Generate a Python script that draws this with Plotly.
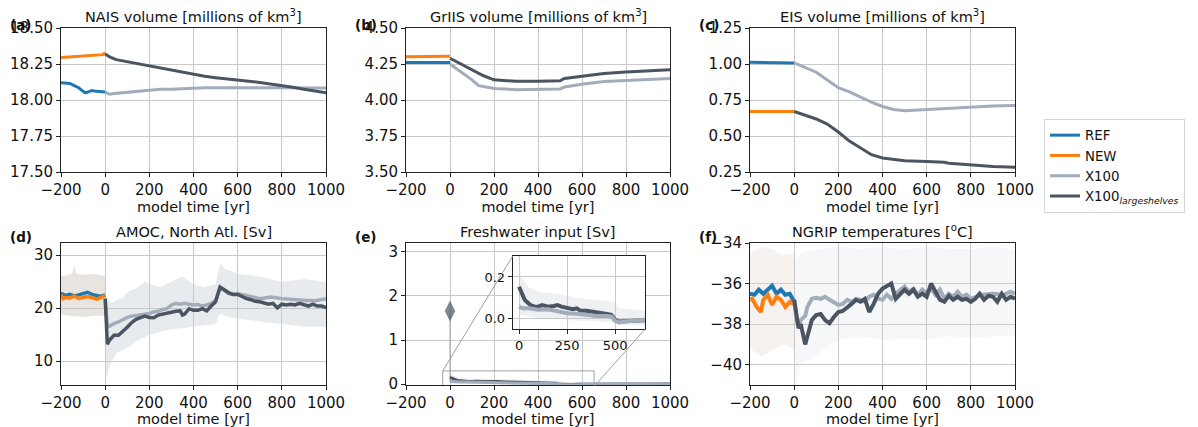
import plotly.graph_objects as go

W, H = 1198, 427

# ---------------- data ----------------
# (a) NAIS volume [millions of km3]
a_ref_t = [-200, -160, -140, -120, -100, -90, -80, -60, -40, -20, 0]
a_ref_v = [18.12, 18.115, 18.10, 18.085, 18.06, 18.05, 18.055, 18.065, 18.06, 18.06, 18.055]
a_new_t = [-200, -150, -100, -50, -10, 0]
a_new_v = [18.295, 18.30, 18.305, 18.31, 18.315, 18.33]
a_x100_t = [0, 20, 40, 80, 100, 150, 200, 250, 300, 350, 400, 450, 500, 600, 700, 800, 900, 1000]
a_x100_v = [18.055, 18.04, 18.045, 18.05, 18.055, 18.06, 18.065, 18.075, 18.075, 18.08, 18.08,
            18.085, 18.085, 18.087, 18.085, 18.085, 18.085, 18.083]
a_ls_t = [0, 20, 50, 100, 150, 200, 250, 300, 350, 400, 450, 500, 550, 600, 650, 700, 750, 800,
          850, 900, 950, 1000]
a_ls_v = [18.32, 18.30, 18.28, 18.265, 18.25, 18.24, 18.225, 18.21, 18.195, 18.18, 18.165, 18.155,
          18.145, 18.14, 18.13, 18.122, 18.112, 18.10, 18.088, 18.075, 18.062, 18.05]

# (b) GrIIS volume
b_ref_t = [-200, 0]
b_ref_v = [4.26, 4.26]
b_new_t = [-200, 0]
b_new_v = [4.30, 4.303]
b_x100_t = [0, 50, 100, 130, 200, 300, 400, 500, 520, 600, 700, 800, 900, 1000]
b_x100_v = [4.25, 4.195, 4.14, 4.10, 4.08, 4.072, 4.072, 4.077, 4.09, 4.11, 4.128, 4.137, 4.144, 4.15]
b_ls_t = [0, 50, 100, 150, 200, 250, 300, 400, 500, 520, 600, 700, 800, 900, 1000]
b_ls_v = [4.29, 4.25, 4.21, 4.17, 4.14, 4.135, 4.13, 4.13, 4.133, 4.15, 4.167, 4.184, 4.195, 4.20, 4.21]

# (c) EIS volume
c_ref_t = [-200, 0]
c_ref_v = [1.012, 1.007]
c_new_t = [-200, 0]
c_new_v = [0.67, 0.67]
c_x100_t = [0, 50, 100, 150, 200, 250, 300, 350, 400, 450, 500, 600, 700, 800, 900, 1000]
c_x100_v = [1.007, 0.976, 0.943, 0.889, 0.835, 0.807, 0.771, 0.736, 0.705, 0.684, 0.675, 0.684,
            0.693, 0.703, 0.708, 0.712]
c_ls_t = [0, 50, 100, 150, 200, 250, 300, 350, 400, 450, 500, 600, 680, 700, 800, 900, 1000]
c_ls_v = [0.67, 0.646, 0.618, 0.583, 0.528, 0.465, 0.417, 0.370, 0.347, 0.335, 0.328, 0.323,
          0.318, 0.311, 0.297, 0.288, 0.283]

# (d) AMOC, North Atl. [Sv]
d_ref_t = [-200, -180, -160, -140, -120, -100, -80, -60, -40, -20, 0]
d_ref_v = [22.8, 22.4, 22.6, 22.3, 22.5, 22.7, 23.0, 22.6, 22.4, 22.2, 22.5]
d_new_t = [-200, -190, -180, -160, -140, -120, -100, -80, -60, -40, -20, 0]
d_new_v = [22.5, 21.8, 22.0, 21.9, 22.3, 21.8, 22.0, 22.2, 22.0, 21.7, 22.0, 22.4]
d_x100_t = [0, 10, 20, 40, 60, 80, 100, 120, 140, 160, 180, 200, 220, 240, 260, 280, 300, 320, 340,
            360, 380, 400, 420, 440, 460, 480, 500, 520, 540, 560, 580, 600, 700, 750, 800, 850,
            900, 950, 1000]
d_x100_v = [21.8, 16.5, 16.6, 17.1, 17.4, 17.9, 18.25, 18.5, 18.6, 18.7, 18.9, 19.0, 19.3, 19.4,
            19.75, 19.9, 20.6, 20.9, 20.75, 20.9, 20.75, 20.6, 20.7, 20.4, 20.6, 20.9, 21.5, 23.7,
            23.4, 22.75, 22.6, 22.75, 21.8, 22.1, 21.8, 21.6, 21.5, 21.4, 21.8]
d_ls_t = [0, 10, 20, 40, 60, 80, 100, 120, 140, 160, 180, 200, 220, 240, 260, 280, 300, 320, 340,
          350, 360, 380, 400, 420, 440, 460, 480, 500, 520, 540, 560, 580, 600, 620, 640, 660, 680,
          700, 720, 740, 760, 780, 800, 820, 840, 860, 880, 900, 920, 940, 960, 980, 1000]
d_ls_v = [21.8, 13.2, 14.0, 14.9, 14.9, 15.6, 16.4, 17.3, 17.9, 18.2, 18.5, 18.25, 18.2, 18.7,
          18.9, 19.1, 19.3, 19.4, 19.5, 18.7, 18.9, 19.9, 19.6, 19.6, 19.9, 19.5, 20.4, 21.2, 24.0,
          23.4, 22.9, 22.6, 22.6, 22.2, 21.8, 21.6, 21.3, 21.2, 20.9, 20.75, 20.9, 20.06, 20.75,
          20.6, 20.75, 20.6, 20.9, 20.6, 20.4, 20.75, 20.4, 20.4, 20.1]
# spread of the yearly (unsmoothed) values
d_pre_t = [-200, -150, -140, -130, -100, -50, 0]
d_pre_hi = [26.0, 26.5, 28.0, 26.5, 26.3, 26.5, 26.0]
d_pre_lo = [18.8, 18.5, 18.3, 18.5, 18.3, 18.5, 18.6]
d_post_t = [0, 5, 20, 30, 50, 80, 100, 150, 180, 200, 250, 300, 350, 400, 450, 500, 520, 540, 600,
            700, 800, 900, 1000]
d_post_hi = [21.5, 22.0, 21.5, 21.0, 21.5, 22.0, 23.0, 24.0, 25.0, 24.5, 24.0, 25.0, 26.0, 24.5,
             24.0, 24.5, 28.5, 27.5, 26.5, 26.0, 25.0, 25.5, 25.0]
d_post_lo = [16.0, 6.5, 9.0, 10.0, 11.5, 12.0, 12.5, 14.0, 14.5, 15.0, 15.5, 16.0, 16.2, 16.5,
             16.8, 17.0, 19.0, 18.5, 18.0, 17.5, 17.0, 16.5, 16.5]

# (e) Freshwater input [Sv]
e_pulse_t = [0, 0]
e_pulse_v = [0.05, 1.66]
e_x100_t = [0, 20, 50, 80, 100, 150, 200, 250, 300, 350, 400, 450, 480, 500, 520, 550, 600, 620,
            700, 800, 900, 1000]
e_x100_v = [0.058, 0.05, 0.05, 0.046, 0.043, 0.046, 0.038, 0.027, 0.024, 0.019, 0.014, 0.014, 0.011,
            -0.01, -0.017, -0.013, -0.008, -0.002, 0.0, 0.0, 0.002, 0.0]
e_ls_t = [0, 10, 20, 30, 40, 50, 60, 80, 100, 120, 150, 180, 200, 220, 250, 280, 300, 320, 350,
          380, 400, 420, 450, 480, 500, 520, 550, 580, 600, 620, 700, 800, 900, 1000]
e_ls_v = [0.153, 0.129, 0.105, 0.09, 0.082, 0.074, 0.066, 0.058, 0.058, 0.066, 0.058, 0.061,
          0.066, 0.058, 0.05, 0.046, 0.05, 0.038, 0.038, 0.035, 0.03, 0.027, 0.024, 0.019, -0.005,
          -0.013, -0.01, -0.005, -0.005, -0.002, 0.005, 0.008, 0.006, 0.005]
e_raw_t = [0, 10, 50, 100, 200, 300, 400, 500, 520, 650, 800, 1000]
e_raw_hi = [0.30, 0.20, 0.15, 0.13, 0.12, 0.10, 0.09, 0.08, 0.05, 0.04, 0.05, 0.05]
e_raw_lo = [0.0, 0.02, 0.01, 0.0, 0.0, -0.01, -0.01, -0.02, -0.03, -0.03, -0.03, -0.03]

# (f) NGRIP temperatures [oC]
f_ref_t = [-200, -180, -160, -140, -120, -100, -80, -60, -40, -20, 0]
f_ref_v = [-36.5, -36.55, -36.3, -36.5, -36.3, -36.1, -36.5, -36.3, -36.55, -36.5, -36.9]
f_new_t = [-200, -190, -170, -150, -140, -120, -100, -80, -60, -40, -20, 0]
f_new_v = [-36.8, -36.75, -37.15, -37.4, -36.8, -36.55, -37.05, -36.65, -36.8, -37.15, -36.9, -37.0]
f_x100_t = [0, 10, 20, 30, 50, 60, 80, 100, 120, 140, 160, 180, 200, 220, 240, 260, 280, 300, 320,
            340, 360, 380, 400, 420, 440, 460, 480, 500, 520, 540, 560, 580, 600, 620, 640, 660,
            680, 700, 720, 740, 760, 780, 800, 850, 900, 950, 980, 1000]
f_x100_v = [-36.8, -37.7, -38.1, -37.8, -37.6, -37.15, -36.75, -36.7, -36.75, -36.65, -36.8, -36.9,
            -37.05, -37.0, -36.8, -36.9, -36.75, -36.8, -36.9, -36.65, -36.55, -36.75, -36.8,
            -36.55, -36.75, -36.5, -36.3, -36.15, -36.4, -36.25, -36.55, -36.3, -36.5, -36.25,
            -36.55, -36.3, -36.75, -36.5, -36.65, -36.4, -36.65, -36.55, -36.75, -36.55, -36.5,
            -36.55, -36.4, -36.5]
f_ls_t = [0, 10, 20, 30, 40, 50, 60, 70, 80, 100, 120, 140, 160, 180, 200, 220, 240, 260, 280, 300,
          320, 340, 360, 380, 400, 420, 440, 460, 480, 500, 520, 540, 560, 580, 600, 620, 640, 660,
          680, 700, 720, 740, 760, 780, 800, 820, 840, 860, 880, 900, 920, 940, 960, 980, 1000]
f_ls_v = [-36.8, -37.6, -38.2, -38.0, -38.45, -39.0, -38.6, -38.1, -37.8, -37.55, -37.5, -37.8,
          -37.95, -37.65, -37.4, -37.35, -37.2, -37.0, -36.8, -36.9, -36.75, -37.4, -37.0, -36.5,
          -36.25, -36.15, -36.0, -36.75, -36.5, -36.3, -36.5, -36.3, -36.65, -36.5, -36.65, -36.0,
          -36.4, -36.8, -36.9, -36.6, -36.8, -36.65, -36.8, -36.75, -36.9, -36.75, -36.5, -36.8,
          -36.6, -36.65, -36.9, -36.5, -36.8, -36.65, -36.75]
f_pre_t = [-200, -150, -100, -50, 0]
f_pre_hi = [-34.5, -34.2, -34.3, -34.6, -34.5]
f_pre_lo = [-39.2, -39.6, -39.3, -39.0, -39.2]
f_post_t = [0, 10, 30, 100, 200, 300, 400, 500, 600, 700, 800, 900, 1000]
f_post_hi = [-35.0, -34.8, -34.5, -34.3, -34.2, -34.3, -34.2, -34.3, -34.2, -34.3, -34.3, -34.2, -34.3]
f_post_lo = [-39.5, -41.0, -40.0, -39.5, -38.8, -38.6, -38.8, -38.7, -38.8, -38.6, -38.7, -38.6, -38.6]

# axis settings
y_ranges = {1: [17.5, 18.5], 2: [3.5, 4.5], 3: [0.25, 1.25], 4: [5.5, 32.3], 5: [-0.02, 3.2],
            6: [-41, -34]}
y_ticks = {1: [17.5, 17.75, 18.0, 18.25, 18.5], 2: [3.5, 3.75, 4.0, 4.25, 4.5],
           3: [0.25, 0.5, 0.75, 1.0, 1.25], 4: [10, 20, 30], 5: [0, 1, 2, 3], 6: [-40, -38, -36, -34]}
y_fmt = {1: ".2f", 2: ".2f", 3: ".2f", 4: "d", 5: "d", 6: "d"}
titles = {1: "NAIS volume [millions of km<sup>3</sup>]", 2: "GrIIS volume [millions of km<sup>3</sup>]",
          3: "EIS volume [millions of km<sup>3</sup>]", 4: "AMOC, North Atl. [Sv]",
          5: "Freshwater input [Sv]", 6: "NGRIP temperatures [<sup>o</sup>C]"}
letters = {1: "(a)", 2: "(b)", 3: "(c)", 4: "(d)", 5: "(e)", 6: "(f)"}
x_range = [-200, 1000]
inset_x_range = [-33, 655]
inset_y_range = [-0.05, 0.3]

# ---------------- styling ----------------
BLUE = "#1f77b4"
ORANGE = "#ff7f0e"
LIGHT = "#a3acbb"
DARK = "#4b5561"
FONT = "DejaVu Sans"
FS = 14.5

col_dom = [(61 / W, 326 / W), (406 / W, 670 / W), (750 / W, 1015 / W)]
row_dom = [(1 - 172 / H, 1 - 28 / H), (1 - 385 / H, 1 - 243 / H)]
inset_dom_x = (512.7 / W, 645 / W)
inset_dom_y = (1 - 329.3 / H, 1 - 256 / H)

fig = go.Figure()


def ax(i):
    return ("x" if i == 1 else f"x{i}"), ("y" if i == 1 else f"y{i}")


def line(i, t, v, color, width, name=None, show=False, opacity=1.0):
    xa, ya = ax(i)
    fig.add_trace(go.Scatter(x=t, y=v, mode="lines", line=dict(color=color, width=width),
                             name=name, showlegend=show, legendgroup=name, opacity=opacity,
                             xaxis=xa, yaxis=ya, hoverinfo="skip"))


def band(i, t, hi, lo, color):
    xa, ya = ax(i)
    fig.add_trace(go.Scatter(x=list(t) + list(t)[::-1], y=list(hi) + list(lo)[::-1], mode="lines",
                             fill="toself", fillcolor=color, line=dict(width=0), showlegend=False,
                             xaxis=xa, yaxis=ya, hoverinfo="skip"))


LS_NAME = "X100<sub><i>largeshelves</i></sub>"

# (a)
line(1, a_ref_t, a_ref_v, BLUE, 3, "REF", True)
line(1, a_new_t, a_new_v, ORANGE, 3, "NEW", True)
line(1, a_x100_t, a_x100_v, LIGHT, 3, "X100", True)
line(1, a_ls_t, a_ls_v, DARK, 3, LS_NAME, True)
# (b)
line(2, b_ref_t, b_ref_v, BLUE, 3, "REF")
line(2, b_new_t, b_new_v, ORANGE, 3, "NEW")
line(2, b_x100_t, b_x100_v, LIGHT, 3, "X100")
line(2, b_ls_t, b_ls_v, DARK, 3, LS_NAME)
# (c)
line(3, c_ref_t, c_ref_v, BLUE, 3, "REF")
line(3, c_new_t, c_new_v, ORANGE, 3, "NEW")
line(3, c_x100_t, c_x100_v, LIGHT, 3, "X100")
line(3, c_ls_t, c_ls_v, DARK, 3, LS_NAME)
# (d)
band(4, d_pre_t, d_pre_hi, d_pre_lo, "rgba(205,195,185,0.45)")
band(4, d_post_t, d_post_hi, d_post_lo, "rgba(195,203,210,0.38)")
line(4, d_ref_t, d_ref_v, BLUE, 3.5, "REF")
line(4, d_new_t, d_new_v, ORANGE, 3.5, "NEW")
line(4, d_x100_t, d_x100_v, LIGHT, 3.5, "X100")
line(4, d_ls_t, d_ls_v, DARK, 3.5, LS_NAME)
# (e)
band(5, e_raw_t, e_raw_hi, e_raw_lo, "rgba(200,206,212,0.30)")
xa5, ya5 = ax(5)
fig.add_trace(go.Scatter(x=e_pulse_t, y=e_pulse_v, mode="lines+markers",
                         line=dict(color="#9aa3ad", width=1),
                         marker=dict(symbol="diamond-tall", size=[0, 15], color=DARK,
                                     line=dict(width=0)),
                         showlegend=False, xaxis=xa5, yaxis=ya5, hoverinfo="skip"))
line(5, e_ls_t, e_ls_v, DARK, 3, LS_NAME)
line(5, e_x100_t, e_x100_v, LIGHT, 3, "X100")
# inset of (e)
band(7, e_raw_t, e_raw_hi, e_raw_lo, "rgba(200,206,212,0.30)")
line(7, e_ls_t, e_ls_v, DARK, 4, LS_NAME)
line(7, e_x100_t, e_x100_v, LIGHT, 4, "X100")
# (f)
band(6, f_pre_t, f_pre_hi, f_pre_lo, "rgba(215,205,195,0.25)")
band(6, f_post_t, f_post_hi, f_post_lo, "rgba(205,210,215,0.18)")
line(6, f_ref_t, f_ref_v, BLUE, 4, "REF")
line(6, f_new_t, f_new_v, ORANGE, 4, "NEW")
line(6, f_x100_t, f_x100_v, LIGHT, 4, "X100")
line(6, f_ls_t, f_ls_v, DARK, 4, LS_NAME)

axis_common = dict(showline=True, mirror=True, linecolor="#222222", linewidth=1, ticks="outside",
                   ticklen=4, tickwidth=1, tickcolor="#222222", showgrid=True, gridcolor="#c9c9c9",
                   gridwidth=1, zeroline=False, automargin=False,
                   tickfont=dict(family=FONT, size=15, color="#111111"))

layout = {}
annotations = []
for i in range(1, 7):
    r, c = divmod(i - 1, 3)
    xk = "xaxis" if i == 1 else f"xaxis{i}"
    yk = "yaxis" if i == 1 else f"yaxis{i}"
    xa, ya = ax(i)
    layout[xk] = dict(axis_common, domain=list(col_dom[c]), anchor=ya, range=x_range,
                      tickmode="array", tickvals=[-200, 0, 200, 400, 600, 800, 1000],
                      title=dict(text="model time [yr]", font=dict(family=FONT, size=FS, color="#111"),
                                 standoff=0))
    layout[yk] = dict(axis_common, domain=list(row_dom[r]), anchor=xa, range=y_ranges[i],
                      tickmode="array", tickvals=y_ticks[i], tickformat=y_fmt[i])
    annotations.append(dict(text=titles[i], xref="paper", yref="paper",
                            x=(col_dom[c][0] + col_dom[c][1]) / 2, y=row_dom[r][1],
                            xanchor="center", yanchor="bottom", yshift=1, showarrow=False,
                            font=dict(family=FONT, size=FS, color="#111")))
    annotations.append(dict(text="<b>" + letters[i] + "</b>", xref="paper", yref="paper",
                            x=col_dom[c][0] - 53 / W, y=row_dom[r][1],
                            yshift=(3 if r == 0 else 5.5),
                            xanchor="left", yanchor="middle", showarrow=False,
                            font=dict(family=FONT, size=13.5, color="#111")))

inset_tickfont = dict(family=FONT, size=13, color="#111111")
layout["xaxis7"] = dict(axis_common, domain=list(inset_dom_x), anchor="y7", range=inset_x_range,
                        tickmode="array", tickvals=[0, 250, 500], tickfont=inset_tickfont)
layout["yaxis7"] = dict(axis_common, domain=list(inset_dom_y), anchor="x7", range=inset_y_range,
                        tickmode="array", tickvals=[0.0, 0.2], tickformat=".1f",
                        tickfont=inset_tickfont)


def to_paper(v, dom, rng):
    return dom[0] + (v - rng[0]) / (rng[1] - rng[0]) * (dom[1] - dom[0])


e_dx, e_dy = col_dom[1], row_dom[1]
shapes = [
    dict(type="rect", xref="x5", yref="y5", x0=inset_x_range[0], x1=inset_x_range[1],
         y0=inset_y_range[0], y1=inset_y_range[1], line=dict(color="#a0a0a0", width=1),
         layer="above"),
    dict(type="line", xref="paper", yref="paper",
         x0=to_paper(inset_x_range[0], e_dx, x_range), y0=to_paper(inset_y_range[1], e_dy, y_ranges[5]),
         x1=inset_dom_x[0], y1=inset_dom_y[1], line=dict(color="#a0a0a0", width=1), layer="above"),
    dict(type="line", xref="paper", yref="paper",
         x0=to_paper(inset_x_range[1], e_dx, x_range), y0=to_paper(inset_y_range[0], e_dy, y_ranges[5]),
         x1=inset_dom_x[1], y1=inset_dom_y[0], line=dict(color="#a0a0a0", width=1), layer="above"),
]

fig.update_layout(
    template="none",
    width=W, height=H, margin=dict(l=0, r=0, t=0, b=0, pad=0),
    paper_bgcolor="white", plot_bgcolor="white",
    font=dict(family=FONT, size=FS, color="#111"),
    annotations=annotations, shapes=shapes,
    legend=dict(x=1044 / W, y=1 - 119 / H, xanchor="left", yanchor="top", traceorder="grouped",
                bordercolor="#d5d5d5", borderwidth=1, bgcolor="white",
                font=dict(family=FONT, size=13.3, color="#111"), itemwidth=30, tracegroupgap=0),
    **layout,
)

fig.write_html("out.html", config={"displayModeBar": False},
               post_script="document.body.style.margin='0';")
